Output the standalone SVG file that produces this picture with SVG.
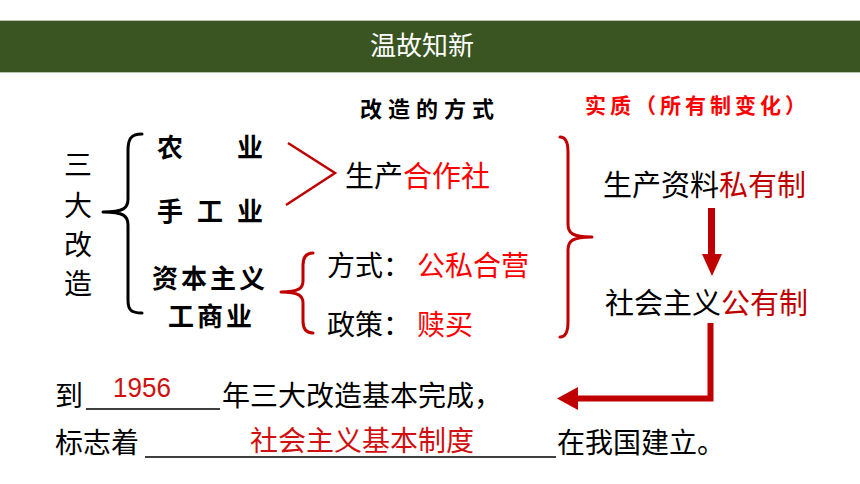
<svg xmlns="http://www.w3.org/2000/svg" width="860" height="484" viewBox="0 0 860 484">
<defs>
<style>
.t{font-family:"Noto Sans CJK SC","Noto Sans",sans-serif;}
.b{font-weight:bold;}
.blk{fill:#000;}
.red{fill:#ff0000;}
.dred{fill:#c00000;}
.brk{fill:none;stroke:#000;stroke-width:3;stroke-linecap:round;}
.brr{fill:none;stroke:#c00000;stroke-width:3;stroke-linecap:round;}
.uline{stroke:#000;stroke-width:1.5;}
</style>
</defs>
<rect width="860" height="484" fill="#fff"/>
<g id="header">
<rect x="0" y="20" width="860" height="53" fill="#3a5522"/>
<line x1="0" y1="20.5" x2="860" y2="20.5" stroke="#b9c4ac" stroke-width="1"/>
<line x1="0" y1="72.5" x2="860" y2="72.5" stroke="#b9c4ac" stroke-width="1"/>
<text class="t" x="422" y="55" font-size="26" fill="#fff" text-anchor="middle">温故知新</text>
</g>
<g id="col-headers">
<text class="t b blk" x="360" y="117" font-size="22" letter-spacing="6">改造的方式</text>
<text class="t b red" x="585" y="113" font-size="21" letter-spacing="4">实质（所有制变化）</text>
</g>
<g id="sanda">
<text class="t blk" x="64" y="175" font-size="28">三</text>
<text class="t blk" x="64" y="216" font-size="28">大</text>
<text class="t blk" x="64" y="255" font-size="28">改</text>
<text class="t blk" x="64" y="294" font-size="28">造</text>
</g>
<g id="nongye">
<text class="t b blk" x="157" y="157" font-size="26">农</text>
<text class="t b blk" x="237" y="157" font-size="26">业</text>
</g>
<g id="shougongye">
<text class="t b blk" x="157" y="221" font-size="26">手</text>
<text class="t b blk" x="197" y="221" font-size="26">工</text>
<text class="t b blk" x="237" y="221" font-size="26">业</text>
</g>
<g id="zibenzhuyi">
<text class="t b blk" x="152" y="288" font-size="26" letter-spacing="3">资本主义</text>
<text class="t b blk" x="168" y="326" font-size="26" letter-spacing="3">工商业</text>
</g>
<g id="hezuoshe">
<text class="t blk" x="345" y="187" font-size="29">生产<tspan class="red">合作社</tspan></text>
</g>
<g id="fangshi">
<text class="t blk" x="327" y="276" font-size="28">方式：</text>
<text class="t red" x="417" y="276" font-size="28">公私合营</text>
</g>
<g id="zhengce">
<text class="t blk" x="327" y="335" font-size="28">政策：</text>
<text class="t red" x="417" y="335" font-size="28">赎买</text>
</g>
<g id="siyouzhi">
<text class="t blk" x="603" y="196" font-size="29">生产资料<tspan class="dred">私有制</tspan></text>
</g>
<g id="gongyouzhi">
<text class="t blk" x="605" y="314" font-size="29">社会主义<tspan class="dred">公有制</tspan></text>
</g>
<g id="summary">
<text class="t blk" x="55" y="406" font-size="28">到</text>
<line class="uline" x1="86" y1="409" x2="220" y2="409"/>
<text x="142" y="397" font-family="Liberation Sans, sans-serif" font-size="27" fill="#d01010" text-anchor="middle" textLength="58" lengthAdjust="spacingAndGlyphs">1956</text>
<text class="t blk" x="222" y="406" font-size="28">年三大改造基本完成，</text>
<text class="t blk" x="55" y="453" font-size="28">标志着</text>
<line class="uline" x1="145" y1="457" x2="556" y2="457"/>
<text class="t" x="250" y="451" font-size="28" fill="#d01010">社会主义基本制度</text>
<text class="t blk" x="557" y="453" font-size="28">在我国建立。</text>
</g>
<g id="connectors">
<path class="brk" d="M142,134 C131,134 128,139 128,150 L128,199 C128,208 124,212 103,212 M103,212 C124,212 128,216 128,225 L128,300 C128,310 131,313 142,313"/>
<polyline points="288,143 335,173 286,205" fill="none" stroke="#c00000" stroke-width="2.5"/>
<path class="brr" d="M313,253 C306,253 303,257 303,265 L303,281 C303,288 299,292 281,292 M281,292 C299,292 303,296 303,303 L303,321 C303,329 306,333 313,333"/>
<path class="brr" d="M560,137 C566,137 568,142 568,152 L568,224 C568,233 572,237 592,237 M592,237 C572,237 568,241 568,250 L568,322 C568,332 566,337 560,337"/>
<rect x="708" y="208" width="7" height="48" fill="#c00000"/>
<polygon points="702,254 722,254 712,276" fill="#c00000"/>
<path d="M710.5,323 L710.5,398.5 L575,398.5" fill="none" stroke="#c00000" stroke-width="6"/>
<polygon points="557,398.5 578,387 578,410" fill="#c00000"/>
</g>
</svg>
